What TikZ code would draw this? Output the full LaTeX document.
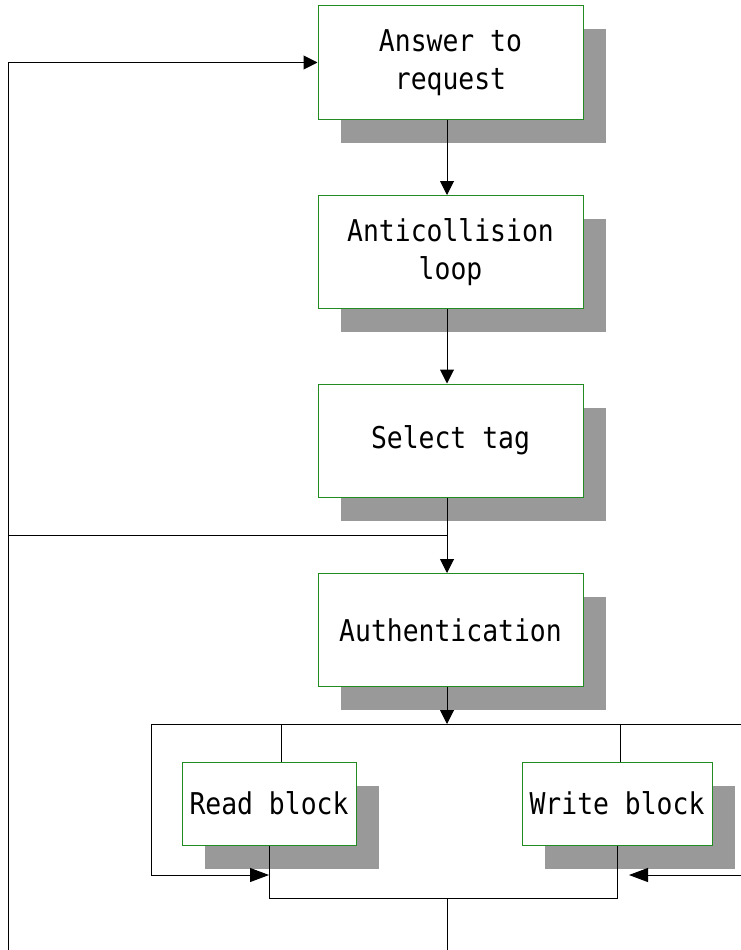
\documentclass[tikz,border=0pt]{standalone}
\usepackage{fontspec}
\newfontfamily\boxfont[FakeStretch=0.88]{DejaVu Sans Mono}
\usepackage{tikz}
\usepackage{xcolor}
\usetikzlibrary{arrows.meta, positioning, shadows}

\definecolor{boxgreen}{RGB}{34,139,34}
\tikzset{
  stepbox/.style={draw=boxgreen, line width=1pt, fill=white, align=center,
    font=\boxfont\fontsize{30}{38}\selectfont, inner sep=0pt,
    drop shadow={shadow xshift=22.5pt, shadow yshift=-23.5pt, fill=black!40, opacity=1}},
  bigbox/.style={stepbox, minimum width=265pt, minimum height=113pt},
  smallbox/.style={stepbox, minimum height=83pt},
  flow/.style={draw, line width=1pt},
  arr/.style={flow, -{Triangle[length=14pt,width=14pt]}},
  longarr/.style={flow, -{Triangle[length=19pt,width=14pt]}},
}

\begin{document}
\begin{tikzpicture}[x=1pt, y=-1pt]
\useasboundingbox (0,0) rectangle (741,950);

\node[bigbox] (answer) at (450.5,62.5) {Answer to\\request};
\node[bigbox] (anticoll) at (450.5,252) {Anticollision\\loop};
\node[bigbox] (select) at (450.5,440.5) {Select tag};
\node[bigbox] (auth) at (450.5,630) {Authentication};
\node[smallbox, minimum width=174pt] (read) at (269,803.5) {Read block};
\node[smallbox, minimum width=190pt] (write) at (617,803.5) {Write block};

% loose ends of the loops
\coordinate (spine) at (447,0);
\coordinate (back) at (8,950);
\coordinate (rejoin) at (8,535);
\coordinate (split) at (447,724);
\coordinate (splitL) at (151,724);
\coordinate (splitR) at (741,724);
\coordinate (joinR) at (741,875);
\coordinate (writeIn) at (629,875);
\coordinate (merge) at (447,898);
\coordinate (exit) at (447,950);

\draw[arr] (answer.south -| spine) -- (anticoll.north -| spine);
\draw[arr] (anticoll.south -| spine) -- (select.north -| spine);
\draw[arr] (select.south -| spine) -- (auth.north -| spine);
\draw[arr] (auth.south -| spine) -- (split);

\draw[arr] (back) |- (answer.west);
\draw[flow] (rejoin) -- (rejoin -| spine);

% read / write branches
\draw[flow] (splitL) -- (splitR);
\draw[flow] ([xshift=12pt]read.north) -- ([xshift=12pt]read.north |- split);
\draw[flow] ([xshift=3pt]write.north) -- ([xshift=3pt]write.north |- split);
\draw[longarr] (splitL) |- (read.south |- joinR);
\draw[longarr] (joinR) -- (writeIn);
\draw[flow] (read.south) |- (merge) -| (write.south);
\draw[flow] (merge) -- (exit);
\end{tikzpicture}
\end{document}
